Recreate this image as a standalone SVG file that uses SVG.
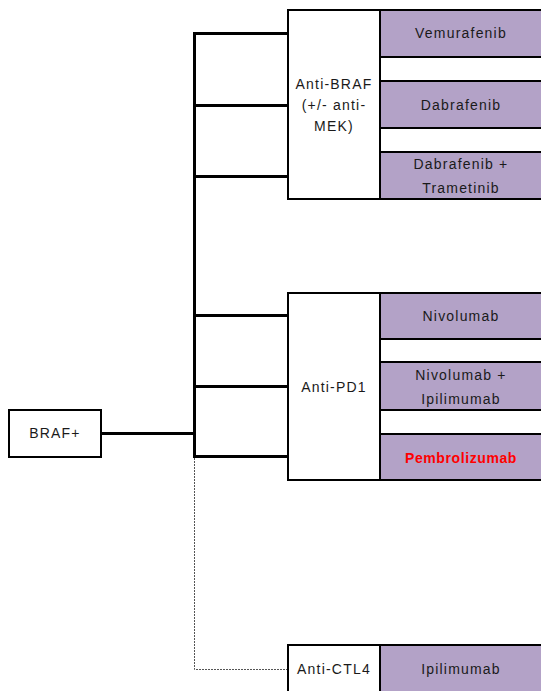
<svg xmlns="http://www.w3.org/2000/svg" width="541" height="691" viewBox="0 0 541 691">
<style>
.box{fill:#fff;stroke:#000;stroke-width:2}
.drug{fill:#B3A2C7;stroke:#000;stroke-width:2}
.t{font-family:"Liberation Sans",Arial,sans-serif;font-size:14px;letter-spacing:1.2px;fill:#1a1a1a;text-anchor:middle}
.red{fill:#FF0000;font-weight:bold;letter-spacing:0.6px}
.c{stroke:#000;stroke-width:3;fill:none}
.d{stroke:#555;stroke-width:1;stroke-dasharray:2,1;fill:none}
</style>
<rect width="541" height="691" fill="#fff"/>
<g id="connectors">
<path class="c" d="M101,433.5H194.5M194.5,32V457.5M193,33.5H288M193,105.5H288M193,176.5H288M193,315.5H288M193,386.5H288M193,456.5H288"/>
<path class="d" d="M194.5,458V669.5H288"/>
</g>
<g id="braf"><rect class="box" x="9" y="410" width="92" height="47"/><text class="t" x="55" y="438">BRAF+</text></g>
<g id="anti-braf"><rect class="box" x="288" y="10" width="92" height="189"/>
<text class="t" x="334" y="89">Anti-BRAF</text><text class="t" x="334" y="110">(+/- anti-</text><text class="t" x="334" y="131">MEK)</text></g>
<g id="vemurafenib"><rect class="drug" x="380" y="10" width="170" height="47"/><text class="t" x="461" y="38">Vemurafenib</text></g>
<g id="dabrafenib"><rect class="drug" x="380" y="81" width="170" height="47"/><text class="t" x="461" y="110">Dabrafenib</text></g>
<g id="dabra-trame"><rect class="drug" x="380" y="152" width="170" height="47"/><text class="t" x="461" y="169">Dabrafenib +</text><text class="t" x="461" y="193">Trametinib</text></g>
<g id="anti-pd1"><rect class="box" x="288" y="293" width="92" height="187"/><text class="t" x="334" y="392">Anti-PD1</text></g>
<g id="nivolumab"><rect class="drug" x="380" y="293" width="170" height="46"/><text class="t" x="461" y="321">Nivolumab</text></g>
<g id="nivo-ipi"><rect class="drug" x="380" y="362" width="170" height="48"/><text class="t" x="461" y="380">Nivolumab +</text><text class="t" x="461" y="404">Ipilimumab</text></g>
<g id="pembrolizumab"><rect class="drug" x="380" y="434" width="170" height="46"/><text class="t red" x="461" y="463">Pembrolizumab</text></g>
<g id="anti-ctl4"><rect class="box" x="288" y="645" width="92" height="60"/><text class="t" x="334" y="674">Anti-CTL4</text></g>
<g id="ipilimumab"><rect class="drug" x="380" y="645" width="170" height="60"/><text class="t" x="461" y="674">Ipilimumab</text></g>
</svg>
